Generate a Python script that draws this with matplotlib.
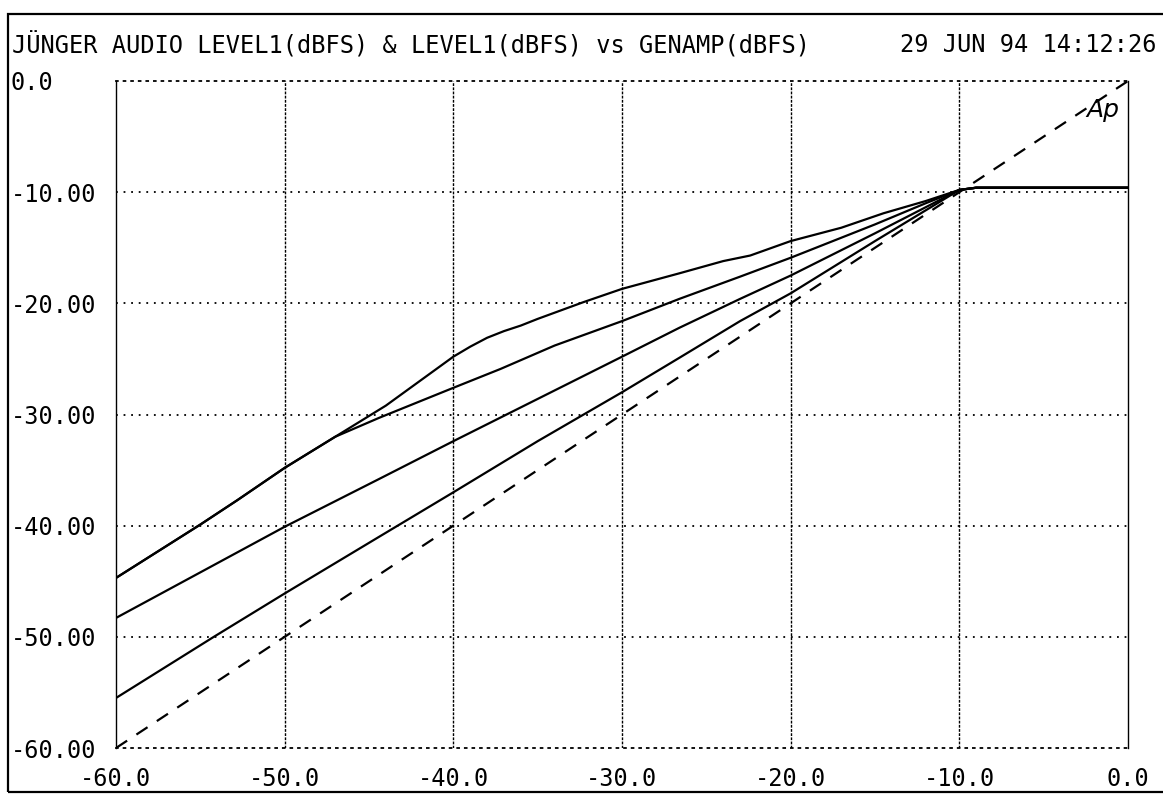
import numpy as np
import matplotlib.pyplot as plt
from matplotlib.patches import Rectangle

# generator amplitude (dBFS) vs measured level (dBFS)
ref_x = [-60.0, 0.0]
ref_y = [-60.0, 0.0]

curve_a_x = [-60, -55, -52.8, -50, -47, -44, -42, -40, -39, -38, -37, -36, -35, -32.3, -30, -26.6, -24, -22.4, -20, -17, -14.5, -12, -10, -9, 0]
curve_a_y = [-44.7, -39.9, -37.7, -34.8, -32.0, -29.2, -27.0, -24.8, -23.9, -23.1, -22.5, -22.0, -21.4, -19.9, -18.7, -17.3, -16.2, -15.7, -14.4, -13.2, -11.9, -10.8, -9.8, -9.6, -9.6]

curve_b_x = [-60, -55, -52.8, -50, -47, -44.4, -40, -37.2, -34, -30, -26.6, -23, -20, -15, -12, -10, -9, 0]
curve_b_y = [-44.7, -39.9, -37.7, -34.8, -32.0, -30.3, -27.6, -25.9, -23.8, -21.6, -19.6, -17.6, -15.9, -12.9, -11.0, -9.8, -9.6, -9.6]

curve_c_x = [-60, -55, -50, -44.4, -40, -35, -30, -26.6, -23, -20, -15, -10, -9, 0]
curve_c_y = [-48.3, -44.2, -40.1, -35.8, -32.4, -28.6, -24.8, -22.2, -19.6, -17.5, -13.7, -9.8, -9.6, -9.6]

curve_d_x = [-60, -54.2, -50, -44.4, -40, -35, -30, -26.6, -23, -20, -15, -10, -9, 0]
curve_d_y = [-55.5, -50.0, -46.1, -41.0, -37.0, -32.4, -28.0, -24.9, -21.6, -19.1, -14.4, -9.8, -9.6, -9.6]

xticks = [-60, -50, -40, -30, -20, -10, 0]
xlabels = ["-60.0", "-50.0", "-40.0", "-30.0", "-20.0", "-10.0", "0.0"]
yticks = [0, -10, -20, -30, -40, -50, -60]
ylabels = ["0.0", "-10.00", "-20.00", "-30.00", "-40.00", "-50.00", "-60.00"]

mono = "DejaVu Sans Mono"
W, H = 1163, 796

fig = plt.figure(figsize=(W / 100, H / 100), dpi=100)
ax = fig.add_axes([116 / W, 1 - 748 / H, (1128 - 116) / W, (748 - 81) / H])

ax.set_xlim(-60, 0)
ax.set_ylim(-60, 0)

# grid: verticals near solid, horizontals dotted
for x in xticks[1:-1]:
    ax.axvline(x, color="black", lw=1.0, ls=(0, (2, 1)), zorder=1)
for y in yticks[1:-1]:
    ax.axhline(y, color="black", lw=1.3, ls=(0, (1, 3.2)), zorder=1)

for side in ["left", "right"]:
    ax.spines[side].set_linestyle((0, (2, 1)))
    ax.spines[side].set_linewidth(1.0)
for side in ["top", "bottom"]:
    ax.spines[side].set_linestyle((0, (1, 3.2)))
    ax.spines[side].set_linewidth(1.3)

for cx, cy in [(curve_a_x, curve_a_y), (curve_b_x, curve_b_y),
               (curve_c_x, curve_c_y), (curve_d_x, curve_d_y)]:
    ax.plot(cx, cy, color="black", lw=1.6, zorder=3)
ax.plot(ref_x, ref_y, color="black", lw=1.6, ls=(0, (6, 5)), zorder=3)

ax.set_xticks(xticks)
ax.set_xticklabels(xlabels, fontsize=17, family=mono)
ax.set_yticks(yticks)
ax.set_yticklabels(ylabels, fontsize=17, family=mono)
ax.tick_params(axis="x", length=0, pad=14)
ax.tick_params(axis="y", length=0, pad=76)
for lab in ax.get_yticklabels():
    lab.set_horizontalalignment("left")

ax.text(-1.5, -2.6, "Ap", fontsize=18, style="italic", weight="light",
        family="DejaVu Sans", ha="center", va="center", zorder=4)

fig.text(12 / W, 1 - 45 / H, "JÜNGER AUDIO LEVEL1(dBFS) & LEVEL1(dBFS) vs GENAMP(dBFS)",
         fontsize=17, family=mono, ha="left", va="center")
fig.text(1157 / W, 1 - 45 / H, "29 JUN 94 14:12:26",
         fontsize=17, family=mono, ha="right", va="center")

fig.patches.append(Rectangle((8 / W, 1 - 792 / H), 1.05, (792 - 14) / H,
                             transform=fig.transFigure, fill=False,
                             edgecolor="black", lw=1.6))

fig.savefig("out.png", dpi=100)
